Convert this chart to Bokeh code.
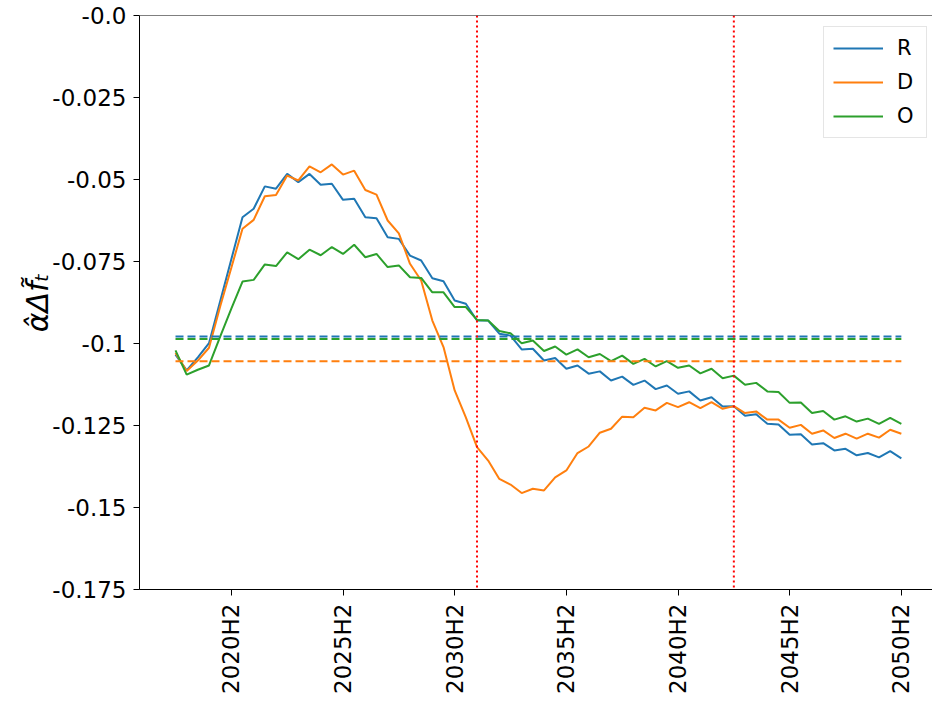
from bokeh.plotting import figure
from bokeh.models import (Range1d, FixedTicker, Span, Legend, LegendItem)
from bokeh.embed import file_html
from bokeh.resources import INLINE
import math

# ---- data ----
periods = [f"{y}H{h}" for y in range(2018, 2051) for h in (1, 2)]
x_tick_labels = ["2020H2", "2025H2", "2030H2", "2035H2", "2040H2", "2045H2", "2050H2"]
y_ticks = [-0.175, -0.15, -0.125, -0.1, -0.075, -0.05, -0.025, 0.0]
y_tick_labels = ["-0.175", "-0.15", "-0.125", "-0.1", "-0.075", "-0.05", "-0.025", "-0.0"]

R = [-0.1034, -0.1082, -0.1042, -0.0999, -0.0871, -0.0743, -0.0615, -0.0589, -0.0521, -0.0528,
     -0.0483, -0.0508, -0.0483, -0.0516, -0.0513, -0.0562, -0.0559, -0.0615, -0.0618, -0.0676,
     -0.0681, -0.0732, -0.0747, -0.0801, -0.0810, -0.0869, -0.0879, -0.0930, -0.0930, -0.0970,
     -0.0976, -0.1018, -0.1016, -0.1052, -0.1044, -0.1077, -0.1067, -0.1092, -0.1085, -0.1113,
     -0.1101, -0.1126, -0.1113, -0.1139, -0.1128, -0.1153, -0.1146, -0.1174, -0.1164, -0.1192,
     -0.1191, -0.1220, -0.1216, -0.1245, -0.1247, -0.1278, -0.1277, -0.1308, -0.1304, -0.1326,
     -0.1321, -0.1341, -0.1334, -0.1347, -0.1328, -0.1350]
D = [-0.1029, -0.1084, -0.1052, -0.1013, -0.0887, -0.0769, -0.0650, -0.0623, -0.0551, -0.0547,
     -0.0488, -0.0503, -0.0460, -0.0478, -0.0454, -0.0485, -0.0473, -0.0532, -0.0546, -0.0625,
     -0.0664, -0.0757, -0.0808, -0.0930, -0.1011, -0.1143, -0.1225, -0.1316, -0.1357, -0.1413,
     -0.1430, -0.1456, -0.1443, -0.1448, -0.1408, -0.1387, -0.1334, -0.1314, -0.1272, -0.1260,
     -0.1223, -0.1225, -0.1196, -0.1204, -0.1181, -0.1194, -0.1179, -0.1197, -0.1179, -0.1199,
     -0.1191, -0.1212, -0.1207, -0.1232, -0.1232, -0.1257, -0.1248, -0.1275, -0.1265, -0.1288,
     -0.1275, -0.1290, -0.1275, -0.1287, -0.1263, -0.1275]
O = [-0.1021, -0.1095, -0.1080, -0.1067, -0.0979, -0.0894, -0.0811, -0.0806, -0.0759, -0.0764,
     -0.0722, -0.0743, -0.0714, -0.0731, -0.0706, -0.0727, -0.0699, -0.0737, -0.0727, -0.0767,
     -0.0762, -0.0798, -0.0800, -0.0844, -0.0844, -0.0889, -0.0889, -0.0928, -0.0930, -0.0962,
     -0.0969, -0.0999, -0.0991, -0.1023, -0.1009, -0.1034, -0.1018, -0.1042, -0.1032, -0.1054,
     -0.1037, -0.1062, -0.1047, -0.1070, -0.1054, -0.1074, -0.1067, -0.1091, -0.1077, -0.1106,
     -0.1098, -0.1126, -0.1120, -0.1146, -0.1148, -0.1181, -0.1180, -0.1212, -0.1206, -0.1232,
     -0.1222, -0.1238, -0.1229, -0.1245, -0.1227, -0.1245]
mean_R = -0.0979
mean_D = -0.1054
mean_O = -0.0986
break_periods = ["2031H2", "2043H1"]

series_names = ["R", "D", "O"]
colors = ["#1f77b4", "#ff7f0e", "#2ca02c"]

# ---- figure ----
x = list(range(len(periods)))
p = figure(width=932, height=699, output_backend="svg", toolbar_location=None,
           x_range=Range1d(-3.224, 67.79), y_range=Range1d(-0.175, 0.0),
           min_border_left=139, min_border_right=0, min_border_top=15, min_border_bottom=110)
p.grid.visible = False
p.outline_line_color = None
p.background_fill_color = "white"
p.border_fill_color = "white"

FONT = "DejaVu Sans"

renderers = []
for vals, c in zip([R, D, O], colors):
    r = p.line(x, vals, line_color=c, line_width=2)
    renderers.append(r)

for m, c in zip([mean_R, mean_O, mean_D], [colors[0], colors[2], colors[1]]):
    p.line([x[0], x[-1]], [m, m], line_color=c, line_width=2, line_dash="8 4")

for bp in break_periods:
    p.add_layout(Span(location=periods.index(bp), dimension="height",
                      line_color="red", line_width=2, line_dash="2 3"))

p.add_layout(Span(location=0.0, dimension="width", line_color="black", line_width=1))

# axes
xa = p.xaxis[0]
xa.ticker = FixedTicker(ticks=[periods.index(l) for l in x_tick_labels])
xa.major_label_overrides = {periods.index(l): l for l in x_tick_labels}
xa.major_label_orientation = math.pi / 2
xa.major_label_text_font = FONT
xa.major_label_text_font_size = "23px"
xa.major_label_text_color = "black"
xa.minor_tick_line_color = None
xa.major_tick_in = 0
xa.major_tick_out = 6
xa.axis_line_color = "black"
xa.major_tick_line_color = "black"
xa.major_label_standoff = 8

ya = p.yaxis[0]
ya.ticker = FixedTicker(ticks=y_ticks)
ya.major_label_overrides = {t: l for t, l in zip(y_ticks, y_tick_labels)}
ya.major_label_text_font = FONT
ya.major_label_text_font_size = "23px"
ya.major_label_text_color = "black"
ya.minor_tick_line_color = None
ya.major_tick_in = 0
ya.major_tick_out = 6
ya.axis_line_color = "black"
ya.major_tick_line_color = "black"
ya.major_label_standoff = 7
ya.axis_label = "α\u0302Δf\u0303\u209c"
ya.axis_label_text_font = FONT
ya.axis_label_text_font_style = "italic"
ya.axis_label_text_font_size = "30px"
ya.axis_label_text_color = "black"
ya.axis_label_standoff = -6

legend = Legend(items=[LegendItem(label=n, renderers=[r]) for n, r in zip(series_names, renderers)],
                location=(684, 451))
legend.label_text_font = FONT
legend.label_text_font_size = "21px"
legend.label_text_color = "black"
legend.glyph_width = 50
legend.glyph_height = 24
legend.label_height = 24
legend.label_width = 20
legend.label_standoff = 14
legend.spacing = 10
legend.padding = 9
legend.margin = 0
legend.border_line_color = "#cccccc"
legend.border_line_width = 1
legend.background_fill_alpha = 0.8
p.add_layout(legend)

open("out.html", "w").write(file_html(p, INLINE))
